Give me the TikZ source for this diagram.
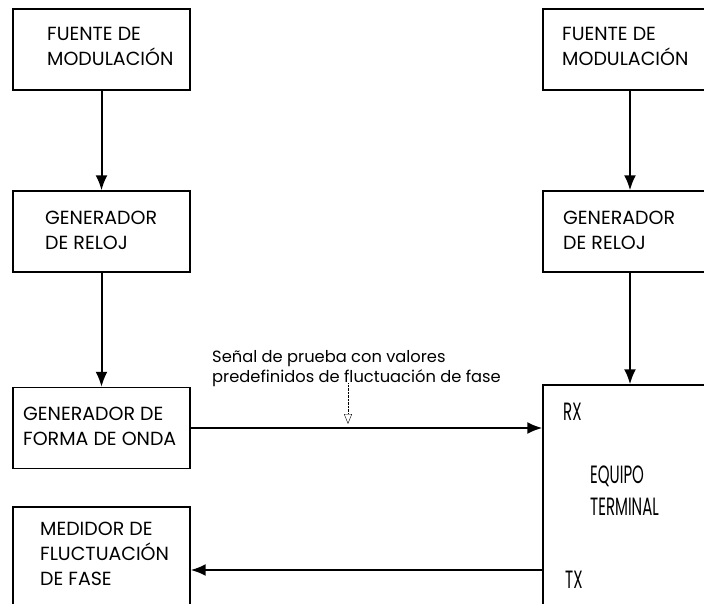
\documentclass[tikz,border=0pt]{standalone}
\usepackage{fontspec}
\usepackage{graphicx}
\setmainfont{Poppins}
\usepackage{tikz}
\usetikzlibrary{arrows.meta, positioning}
\tikzset{>={Latex[length=15pt,width=12pt]}}

\begin{document}
\begin{tikzpicture}[x=1pt, y=-1pt,
		blk/.style={draw, line width=1.4pt, minimum width=177pt, minimum height=81pt, inner sep=0pt},
		txt/.style={anchor=west, align=left, inner sep=0pt, font=\fontsize{19}{25}\selectfont},
		eqtxt/.style={anchor=west, align=left, inner sep=0pt, font=\fontsize{25}{32}\selectfont},
		lbl/.style={anchor=west, align=left, inner sep=0pt, font=\fontsize{16.3}{20}\selectfont},
		arr/.style={->, line width=2pt}]
		\useasboundingbox (0,0) rectangle (704,603);
		\clip (0,0) rectangle (704,603);
		% left column
		\node[blk] (fuenteL) at (101.5,49.5) {};
		\node[blk] (relojL) at (101.5,231.5) {};
		\node[blk] (ondaL) at (101.5,428) {};
		\node[blk, minimum height=126pt] (medidor) at (101.5,570) {};
		\node[txt] (fuenteLt) at (47,46) {FUENTE DE\\MODULACIÓN};
		\node[txt] (relojLt) at (45,230.5) {GENERADOR\\DE RELOJ};
		\node[txt] (ondaLt) at (23,426.5) {GENERADOR DE\\FORMA DE ONDA};
		\node[txt] (medidort) at (40,554) {MEDIDOR DE\\FLUCTUACIÓN\\DE FASE};
		% right column
		\node[blk, minimum width=174pt] (fuenteR) at (630,49.5) {};
		\node[blk, minimum width=174pt] (relojR) at (630,231.5) {};
		\node[blk, minimum width=174pt, minimum height=295pt] (equipo) at (630,532.5) {};
		\node[txt] (fuenteRt) at (562,46) {FUENTE DE\\MODULACIÓN};
		\node[txt] (relojRt) at (563,230) {GENERADOR\\DE RELOJ};
		\node[eqtxt] (rx) at (563,412) {\scalebox{0.6}[1]{RX}};
		\node[eqtxt] (eqt) at (590,491) {\scalebox{0.6}[1]{EQUIPO}\\\scalebox{0.6}[1]{TERMINAL}};
		\node[eqtxt] (tx) at (565,580) {\scalebox{0.6}[1]{TX}};
		% signal label
		\node[lbl] (senal) at (212,369) {Señal de prueba con valores\\predefinidos de fluctuación de fase};
		\coordinate (sigtip) at (348,424);
		% connectors
		\draw[arr] (fuenteL) -- (relojL);
		\draw[arr] (relojL) -- (ondaL);
		\draw[arr] (fuenteR) -- (relojR);
		\draw[arr] (relojR) -- (equipo);
		\draw[arr] (ondaL.east) -- (ondaL.east -| equipo.west);
		\draw[arr] (equipo.west |- medidor.east) -- (medidor.east);
		\draw[thin, densely dotted, -{Triangle[open, length=10pt, width=8pt]}] ([yshift=4pt]senal.south -| sigtip) -- (sigtip);
\end{tikzpicture}
\end{document}
